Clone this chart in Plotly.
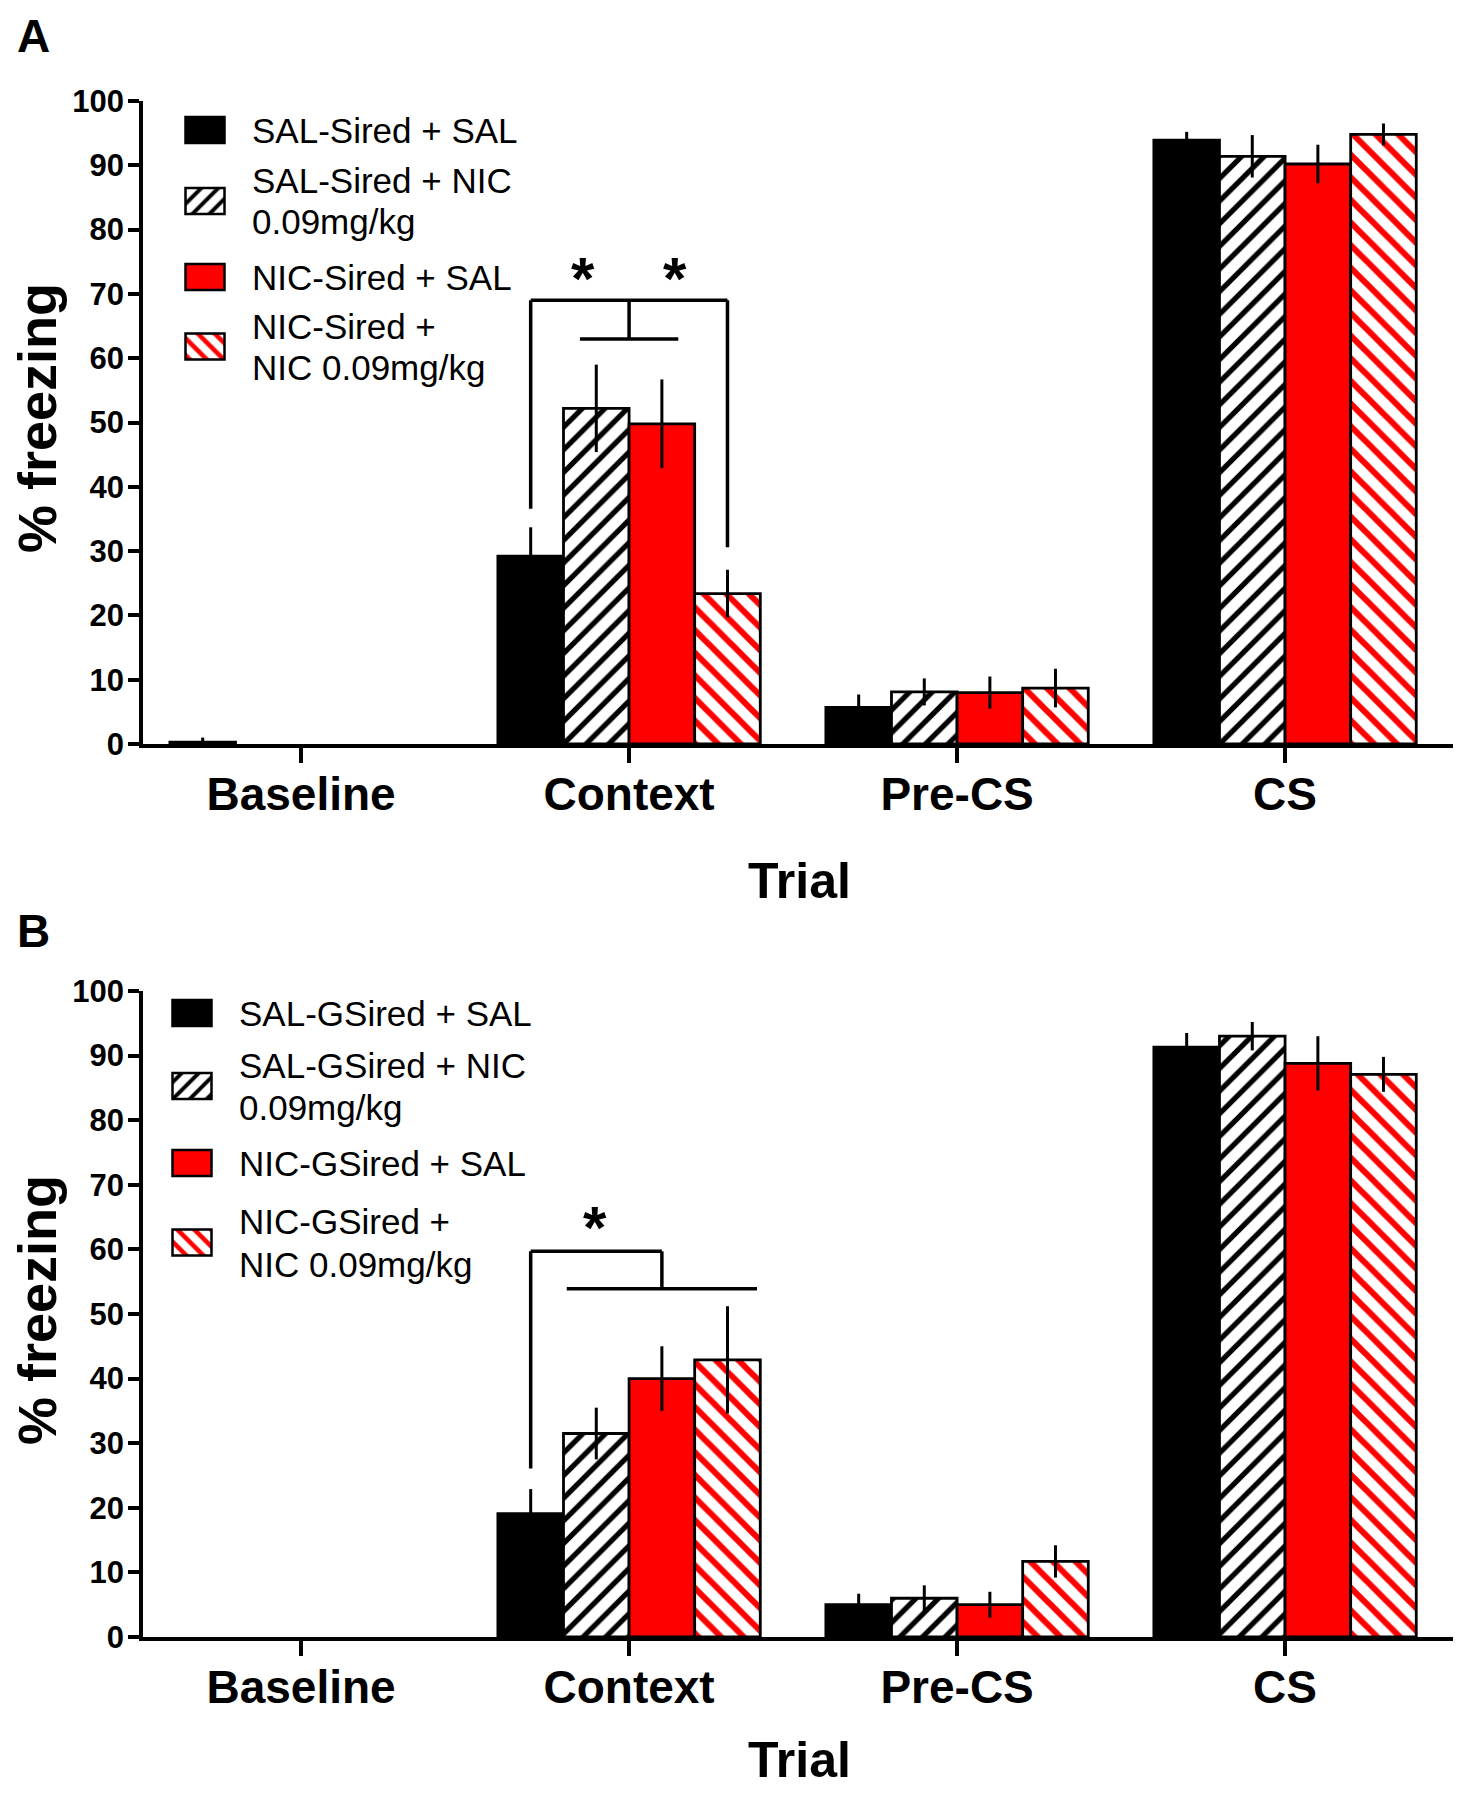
import plotly.graph_objects as go

# ---------------- data ----------------
trials = ["Baseline", "Context", "Pre-CS", "CS"]

groups_A = ["SAL-Sired + SAL", "SAL-Sired + NIC<br>0.09mg/kg",
            "NIC-Sired + SAL", "NIC-Sired +<br>NIC 0.09mg/kg"]
groups_B = ["SAL-GSired + SAL", "SAL-GSired + NIC<br>0.09mg/kg",
            "NIC-GSired + SAL", "NIC-GSired +<br>NIC 0.09mg/kg"]

# panel A means (Baseline, Context, Pre-CS, CS)
A_sal_sal = [0.3, 29.2, 5.7, 93.9]
A_sal_nic = [0.0, 52.2, 8.1, 91.4]
A_nic_sal = [0.0, 49.8, 8.0, 90.2]
A_nic_nic = [0.0, 23.4, 8.7, 94.8]
# panel A SEM
A_sal_sal_err = [0.7, 4.5, 2.0, 1.3]
A_sal_nic_err = [0.0, 6.8, 2.1, 3.3]
A_nic_sal_err = [0.0, 6.9, 2.5, 3.0]
A_nic_nic_err = [0.0, 3.7, 3.0, 1.7]

# panel B means
B_sal_sal = [0.0, 19.1, 5.0, 91.3]
B_sal_nic = [0.0, 31.5, 6.0, 93.0]
B_nic_sal = [0.0, 40.0, 5.0, 88.8]
B_nic_nic = [0.0, 42.9, 11.7, 87.1]
# panel B SEM
B_sal_sal_err = [0.0, 3.8, 1.7, 2.2]
B_sal_nic_err = [0.0, 4.0, 2.0, 2.2]
B_nic_sal_err = [0.0, 5.0, 2.0, 4.2]
B_nic_nic_err = [0.0, 8.3, 2.5, 2.7]

y_ticks = [0, 10, 20, 30, 40, 50, 60, 70, 80, 90, 100]

# significance brackets: (x0, y0, x1, y1) in (category index, % freezing)
brackets_A = [(0.7, 36.6, 0.7, 69.0), (0.7, 69.0, 1.3, 69.0), (1.3, 30.6, 1.3, 69.0),
              (1.0, 63.0, 1.0, 69.0), (0.85, 63.0, 1.15, 63.0)]
stars_A = [(0.86, 73.4), (1.14, 73.4)]
brackets_B = [(0.7, 26.1, 0.7, 59.7), (0.7, 59.7, 1.1, 59.7),
              (1.1, 53.9, 1.1, 59.7), (0.81, 53.9, 1.39, 53.9)]
stars_B = [(0.895, 64.3)]

# ---------------- styling / layout helpers ----------------
OFF = 8                      # page body margin
W, H = 1465 - 2 * OFF, 1800 - 2 * OFF
FONT = "Liberation Sans, Arial, Helvetica, sans-serif"
RED = "#ff0000"

styles = [
    dict(color="black", pattern=None),
    dict(color="white", pattern=dict(shape="/", fgcolor="black", bgcolor="white",
                                      size=16, solidity=0.33, fgopacity=1)),
    dict(color=RED, pattern=None),
    dict(color="white", pattern=dict(shape="\\", fgcolor=RED, bgcolor="white",
                                      size=16, solidity=0.38, fgopacity=1)),
]

def px_x(p):          # page pixel -> paper fraction
    return (p - OFF) / W

def px_y(p):
    return 1 - (p - OFF) / H

fig = go.Figure()

panels = [
    ("x", "y", [A_sal_sal, A_sal_nic, A_nic_sal, A_nic_nic],
     [A_sal_sal_err, A_sal_nic_err, A_nic_sal_err, A_nic_nic_err]),
    ("x2", "y2", [B_sal_sal, B_sal_nic, B_nic_sal, B_nic_nic],
     [B_sal_sal_err, B_sal_nic_err, B_nic_sal_err, B_nic_nic_err]),
]

for xa, ya, vals, errs in panels:
    for i in range(4):
        st = styles[i]
        lw = [2.8 if v > 0 else 0 for v in vals[i]]
        marker = dict(color=st["color"], line=dict(color="black", width=lw))
        if st["pattern"] is not None:
            marker["pattern"] = st["pattern"]
        fig.add_trace(go.Bar(
            x=trials, y=vals[i], xaxis=xa, yaxis=ya, marker=marker,
            error_y=dict(type="data", array=errs[i], symmetric=True, width=0,
                         thickness=3, color="black"),
            showlegend=False, hoverinfo="skip"))

# ---------------- manual legends (boxes drawn as bars on a pixel overlay axis) ----
box_w, box_h = 39, 26
legend_A = dict(box_x=205, text_x=250,
                lines=[[130], [181, 221], [277], [326, 367]])
legend_B = dict(box_x=192, text_x=237,
                lines=[[1013], [1065, 1107], [1163], [1221, 1264]])

leg_styles = []
for st in styles:
    s = dict(st)
    if s["pattern"] is not None:
        p = dict(s["pattern"])
        p["size"] = 12
        s["pattern"] = p
    leg_styles.append(s)

for i in range(4):
    centers = [sum(legend_A["lines"][i]) / len(legend_A["lines"][i]),
               sum(legend_B["lines"][i]) / len(legend_B["lines"][i])]
    st = leg_styles[i]
    marker = dict(color=st["color"], line=dict(color="black", width=2.5))
    if st["pattern"] is not None:
        marker["pattern"] = st["pattern"]
    fig.add_trace(go.Bar(
        x=[legend_A["box_x"], legend_B["box_x"]],
        base=[c - box_h / 2 for c in centers], y=[box_h, box_h],
        width=box_w, offset=-box_w / 2, xaxis="x3", yaxis="y3",
        marker=marker, showlegend=False, hoverinfo="skip"))

annotations = []
for leg, labels in ((legend_A, groups_A), (legend_B, groups_B)):
    for i, lab in enumerate(labels):
        parts = lab.split("<br>")
        for part, ly in zip(parts, leg["lines"][i]):
            annotations.append(dict(
                x=px_x(leg["text_x"]), y=px_y(ly), xref="paper", yref="paper",
                text=part, showarrow=False, xanchor="left", yanchor="middle",
                font=dict(family=FONT, size=35, color="black")))

# stars
for (sx, sy) in stars_A:
    annotations.append(dict(x=sx, y=sy, xref="x", yref="y", text="*", showarrow=False,
                            xanchor="center", yanchor="middle", yshift=-6,
                            font=dict(family=FONT, size=60, color="black", weight="bold")))
for (sx, sy) in stars_B:
    annotations.append(dict(x=sx, y=sy, xref="x2", yref="y2", text="*", showarrow=False,
                            xanchor="center", yanchor="middle", yshift=-6,
                            font=dict(family=FONT, size=60, color="black", weight="bold")))

# panel letters, axis titles
annotations.append(dict(x=px_x(34), y=1, xref="paper", yref="paper", text="A",
                        showarrow=False, xanchor="center", yanchor="top",
                        font=dict(family=FONT, size=46, color="black", weight="bold")))
annotations.append(dict(x=px_x(34), y=px_y(931), xref="paper", yref="paper", text="B",
                        showarrow=False, xanchor="center", yanchor="middle",
                        font=dict(family=FONT, size=46, color="black", weight="bold")))
for ty in (418, 1310):
    annotations.append(dict(x=px_x(37), y=px_y(ty), xref="paper", yref="paper",
                            text="% freezing", textangle=-90, showarrow=False,
                            xanchor="center", yanchor="middle",
                            font=dict(family=FONT, size=54, color="black", weight="bold")))
annotations.append(dict(x=px_x(799), y=px_y(881), xref="paper", yref="paper",
                        text="Trial", showarrow=False, xanchor="center", yanchor="middle",
                        font=dict(family=FONT, size=50, color="black", weight="bold")))
annotations.append(dict(x=px_x(799), y=0, xref="paper", yref="paper",
                        text="Trial", showarrow=False, xanchor="center", yanchor="bottom",
                        yshift=2,
                        font=dict(family=FONT, size=50, color="black", weight="bold")))

shapes = []
for (x0, y0, x1, y1) in brackets_A:
    shapes.append(dict(type="line", xref="x", yref="y", x0=x0, y0=y0, x1=x1, y1=y1,
                       line=dict(color="black", width=3.5)))
for (x0, y0, x1, y1) in brackets_B:
    shapes.append(dict(type="line", xref="x2", yref="y2", x0=x0, y0=y0, x1=x1, y1=y1,
                       line=dict(color="black", width=3.5)))

x_dom = [px_x(143), px_x(1453)]
xr = [-0.482, 3.512]
common_x = dict(range=xr, showline=True, linewidth=3.5, linecolor="black", ticks="outside",
                ticklen=15, tickwidth=3.5, tickcolor="black", showgrid=False, zeroline=False,
                tickfont=dict(family=FONT, size=46, color="black", weight="bold"),
                ticklabelstandoff=-8,
                fixedrange=True, domain=x_dom, automargin=False)
common_y = dict(range=[0, 100], tickvals=y_ticks, showline=True, linewidth=3.5,
                linecolor="black", ticks="outside", ticklen=11, tickwidth=3.5,
                tickcolor="black", showgrid=False, zeroline=False,
                tickfont=dict(family=FONT, size=31, color="black", weight="bold"),
                ticklabelstandoff=-2,
                fixedrange=True, automargin=False)

fig.update_layout(
    template="none",
    width=W, height=H, autosize=False,
    margin=dict(l=0, r=0, t=0, b=0, pad=0),
    paper_bgcolor="white", plot_bgcolor="rgba(0,0,0,0)",
    barmode="group", bargap=0.2, bargroupgap=0.0,
    showlegend=False,
    xaxis=dict(common_x, anchor="y"),
    yaxis=dict(common_y, anchor="x", domain=[px_y(744), px_y(101)]),
    xaxis2=dict(common_x, anchor="y2"),
    yaxis2=dict(common_y, anchor="x2", domain=[px_y(1637), px_y(991)]),
    xaxis3=dict(domain=[0, 1], range=[OFF, OFF + W], visible=False, fixedrange=True,
                anchor="y3", automargin=False),
    yaxis3=dict(domain=[0, 1], range=[OFF + H, OFF], visible=False, fixedrange=True,
                anchor="x3", automargin=False),
    annotations=annotations, shapes=shapes,
    font=dict(family=FONT, color="black"),
)

fig.write_html("out.html")
